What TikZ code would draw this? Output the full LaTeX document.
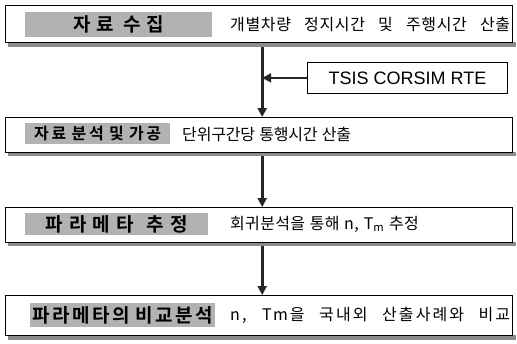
\documentclass[tikz,border=0pt]{standalone}
\usepackage{fontspec}
\setmainfont{Noto Sans CJK KR}[WordSpace=1.8]
\newfontfamily\lblfont{Noto Sans CJK KR}[BoldFont={* Bold}]
\newfontfamily\tsisfont{Liberation Sans}
\usetikzlibrary{arrows.meta}
\tikzset{
  box/.style={draw=black, line width=1.1pt, fill=white, anchor=north west, inner sep=0pt},
  shadow/.style={fill=black!45, draw=none, anchor=north west, inner sep=0pt},
  lbl/.style={fill=black!30, anchor=north west, inner sep=0pt, font=\lblfont\fontsize{19}{19}\selectfont\bfseries, text=black},
  desc/.style={anchor=west, inner sep=0pt, font=\fontsize{16}{16}\selectfont, text=black},
  arr/.style={draw=black!85, line width=2.6pt, -{Triangle[length=9pt,width=9pt]}},
}
\begin{document}
\begin{tikzpicture}[x=1pt,y=-1pt]
\useasboundingbox (0,0) rectangle (517,343);
% box 1
\node[shadow, minimum width=508pt, minimum height=5pt] (sh1) at (8,42) {};
\node[box, minimum width=507pt, minimum height=37pt] (b1) at (5,5) {};
\node[lbl, minimum width=187pt, minimum height=25pt] (l1) at (25,12)
  {\makebox[90pt][s]{자\hfill 료\hfill\hfill 수\hfill 집}};
\node[desc] (d1) at (230,24)
  {\makebox[280pt][s]{\addfontfeature{LetterSpace=4}개별차량 정지시간 및 주행시간 산출}};
% TSIS
\node[box, line width=0.8pt, minimum width=200pt, minimum height=31pt, font=\tsisfont\fontsize{18}{18}\selectfont] (t) at (307,62) {TSIS CORSIM RTE};
% box 2
\node[shadow, minimum width=508pt, minimum height=4pt] (sh2) at (8,152) {};
\node[box, minimum width=507pt, minimum height=35pt] (b2) at (5,117) {};
\node[lbl, minimum width=145pt, minimum height=21pt, font=\lblfont\fontsize{16}{16}\selectfont\bfseries] (l2) at (25,123)
  {\makebox[127pt][s]{자\hfill 료\hfill\hfill 분\hfill 석\hfill\hfill 및\hfill\hfill 가\hfill 공}};
\node[desc] (d2) at (182,134)
  {\makebox[168pt][s]{\addfontfeature{LetterSpace=-1}단위구간당 통행시간 산출}};
% box 3
\node[shadow, minimum width=508pt, minimum height=4pt] (sh3) at (8,242) {};
\node[box, minimum width=507pt, minimum height=35pt] (b3) at (5,207) {};
\node[lbl, minimum width=183pt, minimum height=22pt] (l3) at (25,213)
  {\makebox[143pt][s]{파\hfill 라\hfill 메\hfill 타\hfill\hfill 추\hfill 정}};
\node[desc] (d3) at (230,224)
  {\makebox[185pt][s]{\addfontfeature{LetterSpace=2}회귀분석을 통해 n, T\textsubscript{m} 추정}};
% box 4
\node[shadow, minimum width=508pt, minimum height=5pt] (sh4) at (8,335) {};
\node[box, minimum width=507pt, minimum height=40pt] (b4) at (5,295) {};
\node[lbl, minimum width=185pt, minimum height=24pt] (l4) at (30,303)
  {\makebox[181pt][s]{파\hfill 라\hfill 메\hfill 타\hfill 의\hfill\hfill 비\hfill 교\hfill 분\hfill 석}};
\node[desc] (d4) at (230,315)
  {\makebox[280pt][s]{\addfontfeature{LetterSpace=13}n, Tm을 국내외 산출사례와 비교}};
% arrows
\draw[arr] (sh1.south) -- (sh1.south |- b2.north);
\draw[arr] (t.west) -- (t.west -| sh1.south);
\draw[arr] (sh2.south) -- (sh2.south |- b3.north);
\draw[arr] (sh3.south) -- (sh3.south |- b4.north);
\end{tikzpicture}
\end{document}
